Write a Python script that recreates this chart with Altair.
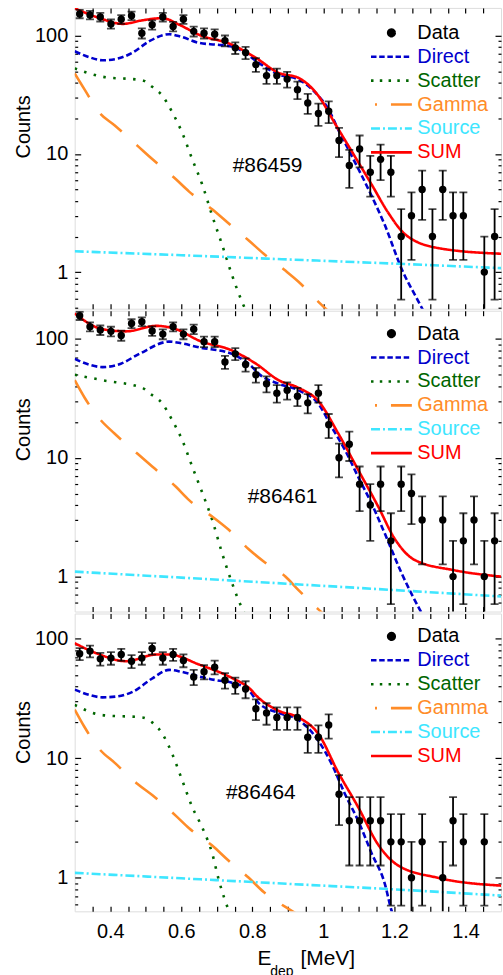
import altair as alt
import pandas as pd

FONT = "Liberation Sans"

# ---------------- data ----------------
X_DOMAIN = [0.3, 1.5]
X_TICKS = [0.35, 0.4, 0.45, 0.5, 0.55, 0.6, 0.65, 0.7, 0.75, 0.8, 0.85, 0.9, 0.95,
           1.0, 1.05, 1.1, 1.15, 1.2, 1.25, 1.3, 1.35, 1.4, 1.45]
Y_MAJOR = [1, 10, 100]
Y_MINOR = [0.5, 0.6, 0.7, 0.8, 0.9, 2, 3, 4, 5, 6, 7, 8, 9,
           20, 30, 40, 50, 60, 70, 80, 90]

RUNS = ["#86459", "#86461", "#86464"]
RUN_LABEL_X = [0.843, 0.885, 0.824]
RUN_LABEL_Y = [7.9, 4.7, 5.1]
Y_DOMAINS = [[0.49, 172], [0.508, 173], [0.524, 163]]
PANEL_H = [302, 302, 299]
LEGEND_Y = [13, 11, 11]
X_TITLE = "E" + "\u00a0" * 5 + "[MeV]"
X_SUB = "dep"

X_BINS = [0.314, 0.343, 0.372, 0.402, 0.431, 0.460, 0.489, 0.518, 0.548, 0.577,
          0.606, 0.635, 0.664, 0.694, 0.723, 0.752, 0.781, 0.810, 0.840, 0.869,
          0.898, 0.927, 0.956, 0.986, 1.015, 1.044, 1.073, 1.102, 1.132, 1.161,
          1.190, 1.219, 1.248, 1.278, 1.307, 1.336, 1.365, 1.394, 1.424, 1.453, 1.482]

COUNTS_1 = [153, 150, 144, 126, 138, 148, 105, 124, 144, 120, 138, 109, 105, 103, 91,
            79, 72, 57, 46, 46, 43, 35, 27, 22, 23, 13, 8, 11, 7, 9, 7, 2, 3, 5, 2, 5,
            3, 3, None, 1, 2]
COUNTS_2 = [157, 127, 119, 116, 107, 135, 140, 117, 110, 127, 110, 121, 95, 95, 64,
            75, 61, 50, 42, 35, 37, 33, 29, 35, 19, 10, 13, 6, 4, 6, 2, 6, 5, 3, None,
            3, 1, 2, 3, 1, 2]
COUNTS_3 = [75, 79, 68, 69, 74, 65, 69, 83, 69, 74, 66, 48, 53, 58, 45, 41, 38, 26,
            24, 22, 22, 22, 15, 15, 19, 5, 3, 3, 3, 3, 2, 2, 1, 2, None, 1, 3, 2, None,
            2, None]

# panel 1 curves
P1_DIRECT_X = [0.30, 0.34, 0.378, 0.42, 0.463, 0.51, 0.566, 0.60, 0.65, 0.70, 0.743, 0.762,
               0.79, 0.818, 0.874, 0.93, 0.96, 0.986, 1.014, 1.042, 1.08, 1.136, 1.173,
               1.22, 1.271, 1.29]
P1_DIRECT_Y = [74, 66, 62, 64, 72, 90, 103, 98, 87, 84, 81, 77, 68, 59, 47, 42.6, 37, 31,
               24, 16, 9.6, 4.4, 2.5, 1.07, 0.54, 0.42]
P1_SCAT_X = [0.30, 0.378, 0.49, 0.518, 0.547, 0.575, 0.603, 0.631, 0.66, 0.687, 0.715,
             0.743, 0.771, 0.79]
P1_SCAT_Y = [53, 45, 42, 37, 31, 22.4, 15, 9, 5.4, 3.0, 1.7, 0.94, 0.56, 0.42]
P1_GAM_X = [0.30, 0.328, 0.37, 0.412, 0.477, 0.519, 0.585, 0.622, 0.687, 0.732, 0.79,
            0.832, 0.893, 0.93, 0.986, 1.02]
P1_GAM_Y = [48, 35, 22.3, 17.5, 11.7, 9.0, 6.1, 4.8, 3.4, 2.6, 1.85, 1.43, 1.03, 0.83,
            0.56, 0.45]
P1_SRC_X = [0.3, 0.6, 0.9, 1.2, 1.5]
P1_SRC_Y = [1.5, 1.39, 1.28, 1.18, 1.08]
P1_SUM_X = [0.30, 0.37, 0.435, 0.49, 0.547, 0.594, 0.65, 0.743, 0.81, 0.874, 0.93, 0.986,
            1.033, 1.08, 1.136, 1.182, 1.229, 1.322, 1.5]
P1_SUM_Y = [171, 141, 126, 135, 141, 124, 102, 84, 65, 48.5, 44, 31, 18, 10.5, 5.5, 3.2,
            2.1, 1.6, 1.43]

# panel 2 curves
P2_DIRECT_X = [0.30, 0.34, 0.378, 0.43, 0.482, 0.566, 0.60, 0.65, 0.743, 0.77, 0.80, 0.818,
               0.874, 0.93, 0.986, 1.024, 1.061, 1.098, 1.136, 1.173, 1.22, 1.271, 1.29]
P2_DIRECT_Y = [68, 61, 58, 62, 75, 95, 92, 85, 75, 68, 58, 51, 42, 37, 28.5, 18, 11.6,
               6.9, 4.1, 2.3, 1.07, 0.53, 0.42]
P2_SCAT_X = [0.30, 0.378, 0.49, 0.51, 0.547, 0.575, 0.603, 0.631, 0.66, 0.687, 0.715,
             0.743, 0.771, 0.79]
P2_SCAT_Y = [50, 45, 38.8, 35, 28.5, 20.6, 14, 8.4, 5, 3, 1.57, 0.88, 0.54, 0.42]
P2_GAM_X = [0.30, 0.328, 0.37, 0.412, 0.477, 0.519, 0.585, 0.622, 0.687, 0.732, 0.79,
            0.832, 0.893, 0.93, 0.986, 1.02]
P2_GAM_Y = [45, 32, 21.3, 16, 10.8, 8.4, 5.7, 4.4, 3.2, 2.5, 1.7, 1.34, 1.0, 0.77, 0.53,
            0.43]
P2_SRC_X = [0.3, 0.6, 0.9, 1.2, 1.5]
P2_SRC_Y = [1.1, 0.98, 0.87, 0.77, 0.68]
P2_SUM_X = [0.30, 0.378, 0.445, 0.53, 0.585, 0.65, 0.743, 0.81, 0.874, 0.93, 0.986, 1.042,
            1.098, 1.154, 1.2, 1.257, 1.369, 1.5]
P2_SUM_Y = [164, 121, 116, 129, 121, 97, 80, 62, 45, 38.8, 30, 16, 7.9, 3.9, 2.1, 1.38,
            1.13, 1.0]

# panel 3 curves
P3_DIRECT_X = [0.30, 0.34, 0.378, 0.42, 0.463, 0.52, 0.566, 0.60, 0.65, 0.70, 0.743, 0.79,
               0.818, 0.874, 0.93, 0.986, 1.024, 1.061, 1.098, 1.136, 1.173, 1.192, 1.21]
P3_DIRECT_Y = [37.6, 34, 32.4, 33, 36, 47, 55, 53, 48.5, 45, 43, 37, 29, 24, 21, 14, 8.9,
               5, 3, 1.6, 0.89, 0.53, 0.4]
P3_SCAT_X = [0.30, 0.378, 0.49, 0.518, 0.547, 0.575, 0.603, 0.631, 0.66, 0.687, 0.706,
             0.734, 0.75]
P3_SCAT_Y = [28, 23, 22, 20, 16, 10.8, 6.5, 3.9, 2.6, 1.6, 0.95, 0.53, 0.42]
P3_GAM_X = [0.30, 0.328, 0.37, 0.412, 0.477, 0.519, 0.585, 0.622, 0.687, 0.732, 0.79,
            0.832, 0.893, 0.95]
P3_GAM_Y = [25.6, 18.2, 11.9, 9.2, 6.1, 4.9, 3.3, 2.6, 1.86, 1.4, 1.0, 0.76, 0.57, 0.45]
P3_SRC_X = [0.3, 0.6, 0.9, 1.2, 1.5]
P3_SRC_Y = [1.1, 0.99, 0.89, 0.8, 0.71]
P3_SUM_X = [0.30, 0.37, 0.445, 0.53, 0.566, 0.65, 0.743, 0.79, 0.818, 0.874, 0.93, 0.986,
            1.042, 1.098, 1.154, 1.21, 1.322, 1.5]
P3_SUM_Y = [92, 74, 65, 74, 74, 61, 47, 39, 32, 25, 22, 16, 7.6, 3.9, 1.9, 1.27, 1.0, 0.86]

COUNTS = [COUNTS_1, COUNTS_2, COUNTS_3]
CURVES = [
    [("Direct", P1_DIRECT_X, P1_DIRECT_Y), ("Scatter", P1_SCAT_X, P1_SCAT_Y),
     ("Gamma", P1_GAM_X, P1_GAM_Y), ("Source", P1_SRC_X, P1_SRC_Y), ("SUM", P1_SUM_X, P1_SUM_Y)],
    [("Direct", P2_DIRECT_X, P2_DIRECT_Y), ("Scatter", P2_SCAT_X, P2_SCAT_Y),
     ("Gamma", P2_GAM_X, P2_GAM_Y), ("Source", P2_SRC_X, P2_SRC_Y), ("SUM", P2_SUM_X, P2_SUM_Y)],
    [("Direct", P3_DIRECT_X, P3_DIRECT_Y), ("Scatter", P3_SCAT_X, P3_SCAT_Y),
     ("Gamma", P3_GAM_X, P3_GAM_Y), ("Source", P3_SRC_X, P3_SRC_Y), ("SUM", P3_SUM_X, P3_SUM_Y)],
]

SERIES = ["Data", "Direct", "Scatter", "Gamma", "Source", "SUM"]
COLORS = ["#000000", "#0000cc", "#006600", "#ff8c28", "#3ee6ff", "#ff0000"]
LINE_SERIES = ["Direct", "Scatter", "Gamma", "Source", "SUM"]
LINE_DASHES = [[6, 3], [2.5, 7.5], [28, 20], [9, 3, 2, 3], [1, 0]]
LEGEND_DASHES = [[1, 0], [5.5, 2.7], [2.5, 6.3], [0, 4, 2, 14, 21, 100], [9, 3, 2, 3], [1, 0]]
DOT_PATH = "M-0.16,0A0.16,0.16 0 1,0 0.16,0A0.16,0.16 0 1,0 -0.16,0Z"


def js(v):
    if isinstance(v, str):
        return "'" + v + "'"
    return "[" + ",".join(str(a) for a in v) + "]"


def pick(pairs, default):
    expr = js(default)
    for k, v in reversed(pairs):
        expr = f"(datum.value === '{k}' ? {js(v)} : {expr})"
    return {"expr": expr}


def make_legend(i):
    return alt.Legend(
        title=None, orient="none", legendX=296, legendY=LEGEND_Y[i], padding=0,
        symbolSize=1681, symbolStrokeWidth=2.6, clipHeight=24, rowPadding=0,
        labelFontSize=20, labelFont=FONT, labelOffset=4, labelLimit=0,
        symbolType=pick([("Data", DOT_PATH)], "stroke"),
        symbolFillColor=pick([("Data", "#000000")], "transparent"),
        symbolDash=pick(list(zip(SERIES, LEGEND_DASHES)), [1, 0]),
        labelColor=pick(list(zip(SERIES, COLORS)), "#000000"),
    )


def panel(i):
    bottom = i == 2
    lo, hi = Y_DOMAINS[i]
    xs = alt.Scale(domain=X_DOMAIN, nice=False, zero=False)
    ys = alt.Scale(type="log", domain=Y_DOMAINS[i], nice=False)

    rows = []
    for x, n in zip(X_BINS, COUNTS[i]):
        if n is None:
            continue
        e = n ** 0.5
        rows.append({"x": x, "n": n, "lo": max(n - e, 0.3), "hi": n + e})
    pts = pd.DataFrame(rows)

    crow = []
    for name, cx, cy in CURVES[i]:
        for a, b in zip(cx, cy):
            crow.append({"x": a, "y": b, "series": name})
    curves = pd.DataFrame(crow)

    X = lambda f="x": alt.X(f"{f}:Q", scale=xs, axis=None)
    Y = lambda f: alt.Y(f"{f}:Q", scale=ys, axis=None)

    lines = alt.Chart(curves).mark_line(clip=True, interpolate="monotone", strokeWidth=2.6).encode(
        x=X(), y=Y("y"),
        color=alt.Color("series:N", scale=alt.Scale(domain=SERIES, range=COLORS), legend=make_legend(i)),
        strokeDash=alt.StrokeDash("series:N", scale=alt.Scale(domain=LINE_SERIES, range=LINE_DASHES), legend=None),
    )
    bars = alt.Chart(pts).mark_rule(clip=True, strokeWidth=1.8, color="black").encode(
        x=X(), y=Y("lo"), y2="hi:Q")
    cap_hi = alt.Chart(pts).mark_tick(clip=True, orient="horizontal", size=8, thickness=1.8, color="black").encode(
        x=X(), y=Y("hi"))
    cap_lo = alt.Chart(pts).mark_tick(clip=True, orient="horizontal", size=8, thickness=1.8, color="black").encode(
        x=X(), y=Y("lo"))
    dots = alt.Chart(pts).mark_circle(clip=True, size=55, color="black", opacity=1).encode(
        x=X(), y=Y("n"))
    lab = alt.Chart(pd.DataFrame({"x": [RUN_LABEL_X[i]], "y": [RUN_LABEL_Y[i]], "t": [RUNS[i]]})).mark_text(
        fontSize=21, font=FONT, align="center", baseline="middle", color="black").encode(
        x=X(), y=Y("y"), text="t:N")

    common = dict(domain=False, grid=False, tickColor="black", tickWidth=1.2,
                  labelFont=FONT, titleFont=FONT, labelColor="black", titleColor="black")
    minor = [v for v in Y_MINOR if lo <= v <= hi]
    xb = alt.Axis(orient="bottom", values=X_TICKS, tickSize={"expr": "-5"}, labels=bottom,
                  labelExpr="abs(datum.value*5 - round(datum.value*5)) < 0.01 ? format(datum.value, '~g') : ''",
                  labelFontSize=20, labelPadding=15, labelOverlap=False, labelFlush=False,
                  title=(X_TITLE if bottom else None), titleFontSize=21,
                  titleFontWeight="normal", titleX=232, titleY=53, titleBaseline="alphabetic",
                  **common)
    xt = alt.Axis(orient="top", values=X_TICKS, tickSize={"expr": "-5"}, labels=False, title=None, **common)
    yl = alt.Axis(orient="left", values=Y_MAJOR, tickSize={"expr": "-6"},
                  labelExpr="format(datum.value, '~g')", labelFontSize=20, labelPadding=13,
                  labelOverlap=False, labelFlush=False,
                  title="Counts", titleFontSize=20, titleFontWeight="normal", titleY=119,
                  titlePadding=1, **common)
    ylm = alt.Axis(orient="left", values=minor, tickSize={"expr": "-3"}, labels=False, title=None, **common)
    yr = alt.Axis(orient="right", values=Y_MAJOR, tickSize={"expr": "-6"}, labels=False, title=None, **common)
    yrm = alt.Axis(orient="right", values=minor, tickSize={"expr": "-3"}, labels=False, title=None, **common)

    def axl(xa, ya):
        return alt.Chart(pts).mark_point(opacity=0, size=1, clip=True).encode(
            x=alt.X("x:Q", scale=xs, axis=xa), y=alt.Y("n:Q", scale=ys, axis=ya))

    layers = [lines, bars, cap_hi, cap_lo, dots, lab,
              axl(xb, yl), axl(xt, ylm), axl(None, yr), axl(None, yrm)]
    if bottom:
        sub = alt.Chart(pd.DataFrame({"t": [X_SUB]})).mark_text(
            fontSize=14, font=FONT, align="center", baseline="alphabetic", color="black").encode(
            x=alt.value(208), y=alt.value(364), text="t:N")
        layers.append(sub)
    return alt.layer(*layers).resolve_axis(x="independent", y="independent").properties(
        width=428, height=PANEL_H[i])


chart = alt.vconcat(panel(0), panel(1), panel(2), spacing=2, bounds="flush").resolve_scale(
    y="independent", color="independent", strokeDash="independent").resolve_legend(
    color="independent").properties(
    padding={"left": 13, "top": 4, "right": 0, "bottom": 0}).configure_view(
    stroke="#222222", strokeWidth=1.4).configure(font=FONT)

chart.save("out.html", embed_options={"renderer": "svg", "actions": False})
